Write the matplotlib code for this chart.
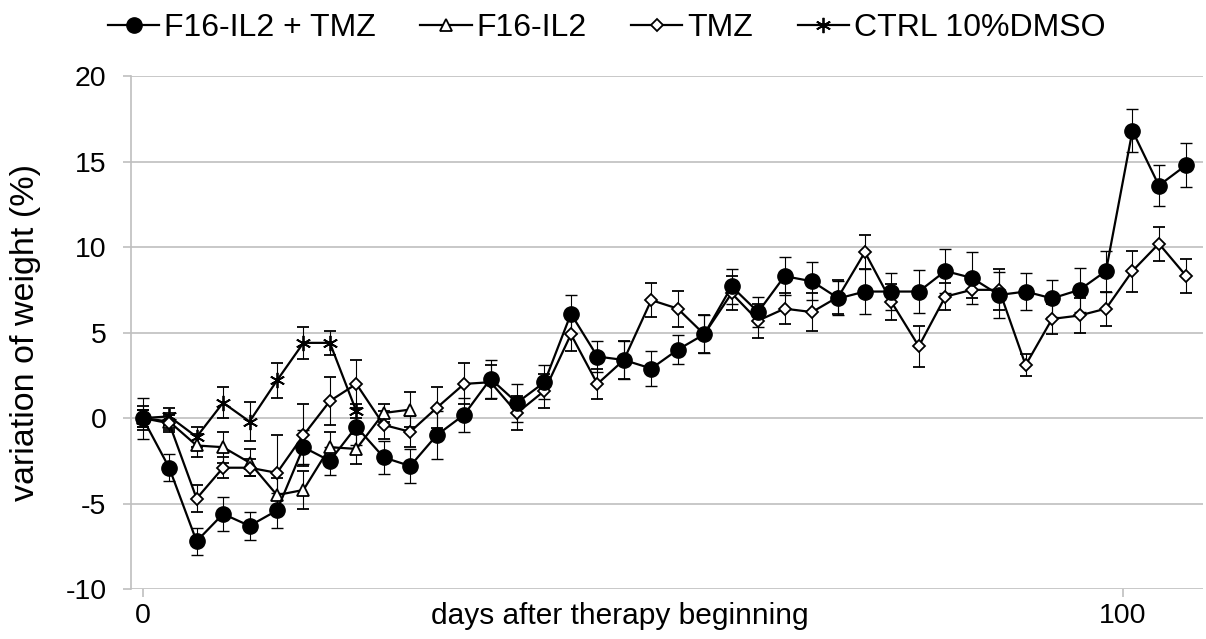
import numpy as np
import matplotlib
matplotlib.use("Agg")
import matplotlib.pyplot as plt
from matplotlib.lines import Line2D

plt.rcParams['font.family'] = ['Liberation Sans', 'DejaVu Sans']
plt.rcParams['axes.unicode_minus'] = False

# days after therapy beginning (one measurement every ~2.7 days)
days = [0.0, 2.7, 5.5, 8.2, 10.9, 13.7, 16.4, 19.1, 21.8, 24.6,
        27.3, 30.0, 32.8, 35.5, 38.2, 41.0, 43.7, 46.4, 49.1, 51.9,
        54.6, 57.3, 60.1, 62.8, 65.5, 68.3, 71.0, 73.7, 76.4, 79.2,
        81.9, 84.6, 87.4, 90.1, 92.8, 95.6, 98.3, 101.0, 103.7, 106.5]

combo = [0.0, -2.9, -7.2, -5.6, -6.3, -5.4, -1.7, -2.5, -0.5, -2.3,
         -2.8, -1.0, 0.2, 2.3, 0.9, 2.1, 6.1, 3.6, 3.4, 2.9,
         4.0, 4.9, 7.7, 6.2, 8.3, 8.0, 7.0, 7.4, 7.4, 7.4,
         8.6, 8.2, 7.2, 7.4, 7.0, 7.5, 8.6, 16.8, 13.6, 14.8]
combo_err = [1.2, 0.8, 0.8, 1.0, 0.8, 1.0, 1.0, 0.8, 1.1, 0.95,
             1.0, 1.4, 1.0, 1.1, 1.1, 1.0, 1.1, 0.9, 1.1, 1.05,
             0.85, 1.1, 1.0, 0.9, 1.1, 1.1, 1.0, 1.3, 1.1, 1.25,
             1.3, 1.5, 1.35, 1.1, 1.1, 1.3, 1.2, 1.25, 1.2, 1.3]

f16 = [0.0, -0.2, -1.6, -1.7, -2.6, -4.5, -4.2, -1.7, -1.8, 0.3, 0.5]
f16_err = [0.5, 0.5, 0.7, 0.9, 0.8, 1.0, 1.1, 0.9, 0.9, 0.5, 1.0]

tmz = [0.0, -0.3, -4.7, -2.9, -2.9, -3.2, -1.0, 1.0, 2.0, -0.4,
       -0.8, 0.6, 2.0, 2.1, 0.3, 1.6, 4.9, 2.0, 3.4, 6.9,
       6.4, 4.9, 7.3, 5.7, 6.4, 6.2, 7.1, 9.7, 6.8, 4.2,
       7.1, 7.5, 7.5, 3.1, 5.8, 6.0, 6.4, 8.6, 10.2, 8.3]
tmz_err = [0.7, 0.5, 0.8, 0.6, 0.5, 2.2, 1.8, 1.4, 1.4, 0.8,
           0.9, 1.2, 1.2, 1.0, 1.0, 1.0, 1.0, 0.9, 1.1, 1.0,
           1.05, 1.1, 1.0, 1.0, 0.9, 1.1, 1.0, 1.0, 1.05, 1.2,
           0.8, 0.5, 1.2, 0.65, 0.9, 1.0, 1.0, 1.2, 1.0, 1.0]

ctrl = [0.0, 0.1, -1.1, 0.9, -0.2, 2.2, 4.4, 4.4, 0.4]
ctrl_err = [0.5, 0.5, 0.6, 0.9, 1.15, 1.05, 0.95, 0.7, 0.4]

labels = ['F16-IL2 + TMZ', 'F16-IL2', 'TMZ', 'CTRL 10%DMSO']

fig = plt.figure(figsize=(12.06, 6.39), dpi=100)
ax = fig.add_axes([0.109, 0.078, 0.8885, 0.803])

err_kw = dict(ecolor='black', elinewidth=0.8, capsize=4.5, capthick=0.8)
line_kw = dict(color='black', lw=1.6)

styles = {
    'ctrl': dict(marker=(6, 2, 0), ms=11, mfc='black', mec='black', mew=1.3),
    'f16': dict(marker='^', ms=9, mfc='white', mec='black', mew=1.3),
    'tmz': dict(marker='D', ms=6.5, mfc='white', mec='black', mew=1.3),
    'combo': dict(marker='o', ms=11, mfc='black', mec='black', mew=1),
}

ax.errorbar(days[:len(ctrl)], ctrl, yerr=ctrl_err, **styles['ctrl'], **line_kw, **err_kw)
ax.errorbar(days[:len(f16)], f16, yerr=f16_err, **styles['f16'], **line_kw, **err_kw)
ax.errorbar(days, tmz, yerr=tmz_err, **styles['tmz'], **line_kw, **err_kw)
ax.errorbar(days, combo, yerr=combo_err, **styles['combo'], **line_kw, **err_kw)

ax.set_xlim(-1.15, 108.2)
ax.set_ylim(-10, 20)
ax.set_yticks(range(-10, 21, 5))
ax.set_xticks([0, 100])
ax.yaxis.grid(True, color='#bfbfbf', lw=1.2)
ax.set_axisbelow(True)
for s in ['top', 'right', 'bottom']:
    ax.spines[s].set_visible(False)
ax.spines['left'].set_color('#bfbfbf')
ax.spines['left'].set_linewidth(1.2)
ax.tick_params(axis='both', colors='#bfbfbf', length=6, width=1.2,
               labelcolor='black', labelsize=20.5)
ax.tick_params(axis='y', pad=12)
ax.tick_params(axis='x', pad=4)

ax.set_ylabel('variation of weight (%)', fontsize=24.5)
ax.yaxis.set_label_coords(-0.084, 0.5)
ax.set_xlabel('days after therapy beginning', fontsize=21.5)
ax.xaxis.set_label_coords(0.456, -0.025)

handles = [Line2D([], [], **line_kw, **styles[k]) for k in ['combo', 'f16', 'tmz', 'ctrl']]
fig.legend(handles, labels, loc='upper center',
           bbox_to_anchor=(0.503, 1.025), ncol=4, frameon=False, fontsize=23,
           handlelength=1.6, handletextpad=0.15, columnspacing=1.4)

fig.savefig('out.png', dpi=100)
